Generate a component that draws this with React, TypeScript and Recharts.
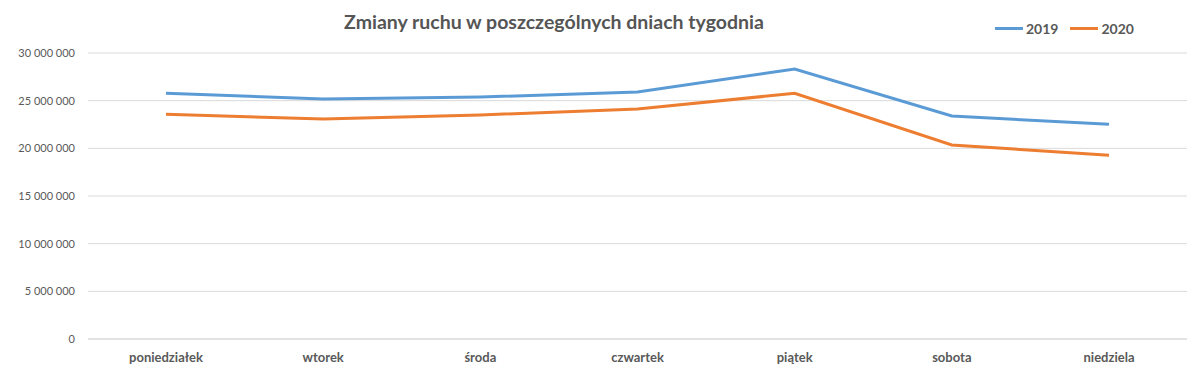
import React from "react";
import { LineChart, Line, XAxis, YAxis, CartesianGrid, Legend } from "recharts";

const days = ["poniedziałek", "wtorek", "środa", "czwartek", "piątek", "sobota", "niedziela"];
const values2019 = [25770000, 25170000, 25380000, 25900000, 28320000, 23390000, 22520000];
const values2020 = [23570000, 23080000, 23500000, 24130000, 25770000, 20350000, 19270000];
const yTicks = [0, 5000000, 10000000, 15000000, 20000000, 25000000, 30000000];

const data = days.map((d, i) => ({ day: d, y2019: values2019[i], y2020: values2020[i] }));

const fmt = (v: number) => String(v).replace(/\B(?=(\d{3})+(?!\d))/g, " ");

const FONT = "Lato, 'Open Sans', sans-serif";

const LegendContent = () => (
  <div style={{ display: "flex", alignItems: "center", fontFamily: FONT, fontWeight: 700, fontSize: 14, color: "#595959" }}>
    <span style={{ display: "inline-block", width: 28, height: 3, background: "#5B9BD5", marginRight: 3 }} />
    <span style={{ marginRight: 12 }}>2019</span>
    <span style={{ display: "inline-block", width: 28, height: 3, background: "#ED7D31", marginRight: 3 }} />
    <span>2020</span>
  </div>
);

export default function App() {
  return (
    <div style={{ position: "absolute", left: 0, top: 0, width: 1187, height: 387, background: "#fff" }}>
      <div
        style={{
          position: "absolute",
          left: 0,
          top: 10,
          width: 1108,
          textAlign: "center",
          fontFamily: FONT,
          fontWeight: 700,
          fontSize: 19.5,
          color: "#555555",
        }}
      >
        Zmiany ruchu w poszczególnych dniach tygodnia
      </div>
      <LineChart width={1187} height={387} data={data} margin={{ top: 33, right: 0, bottom: 0, left: 0 }}>
        <CartesianGrid vertical={false} stroke="#d9d9d9" />
        <XAxis
          dataKey="day"
          height={48}
          padding={{ left: 78, right: 78 }}
          axisLine={{ stroke: "#d9d9d9" }}
          tickLine={false}
          tickMargin={8}
          tick={{ fill: "#595959", fontFamily: FONT, fontWeight: 700, fontSize: 13 }}
        />
        <YAxis
          width={88}
          domain={[0, 30000000]}
          ticks={yTicks}
          tickFormatter={fmt}
          axisLine={false}
          tickLine={false}
          tickSize={0}
          tickMargin={13}
          tick={{ fill: "#595959", fontFamily: FONT, fontSize: 11 }}
        />
        <Legend
          verticalAlign="top"
          content={<LegendContent />}
          wrapperStyle={{ position: "absolute", top: 20, left: 995, width: 160, height: 20 }}
        />
        <Line dataKey="y2019" name="2019" stroke="#5B9BD5" strokeWidth={3} dot={false} isAnimationActive={false} />
        <Line dataKey="y2020" name="2020" stroke="#ED7D31" strokeWidth={3} dot={false} isAnimationActive={false} />
      </LineChart>
    </div>
  );
}
